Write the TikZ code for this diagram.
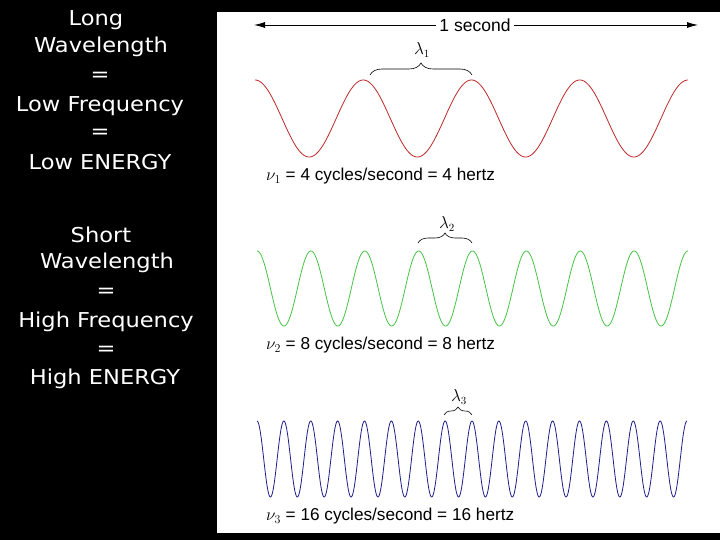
\documentclass[tikz,border=0pt]{standalone}
\usepackage{fontspec}
\setmainfont{Liberation Sans}
\newfontfamily\leftfont[FakeStretch=1.1]{DejaVu Sans}
\usetikzlibrary{arrows.meta,decorations.pathreplacing}
\definecolor{wred}{RGB}{190,40,40}
\definecolor{wgreen}{RGB}{70,195,70}
\definecolor{wblue}{RGB}{30,30,140}
\tikzset{
  lefttxt/.style={text=white, font=\leftfont\fontsize{20.5}{21}\selectfont, inner sep=0pt, anchor=center},
  lbl/.style={font=\fontsize{17.2}{18}\selectfont, inner sep=0pt, anchor=west},
  wave/.style={line width=0.8pt},
  brc/.style={decorate, line width=0.6pt},
  lam/.style={font=\fontsize{16}{16}\selectfont, inner sep=0pt}
}
\begin{document}
\begin{tikzpicture}[x=1pt,y=-1pt]
\useasboundingbox (0,0) rectangle (720,540);
\fill[black] (0,0) rectangle (720,540);
\fill[white] (217,12) rectangle (720,533);
% left texts
\node[lefttxt] (a1) at (96,20) {Long};
\node[lefttxt] (a2) at (101,47) {Wavelength};
\node[lefttxt] (a3) at (100,77) {=};
\node[lefttxt] (a4) at (100,106) {Low Frequency};
\node[lefttxt] (a5) at (100,134) {=};
\node[lefttxt] (a6) at (100,162) {Low ENERGY};
\node[lefttxt] (b1) at (101,235) {Short};
\node[lefttxt] (b2) at (107,263) {Wavelength};
\node[lefttxt] (b3) at (106,293) {=};
\node[lefttxt] (b4) at (106,322) {High Frequency};
\node[lefttxt] (b5) at (106,351) {=};
\node[lefttxt] (b6) at (105,379) {High ENERGY};
% 1 second arrow
\coordinate (L) at (254,25);
\coordinate (R) at (698,25);
\node[font=\fontsize{17.5}{18}\selectfont, inner xsep=3pt] (sec) at (475,25) {1 second};
\draw[line width=0.8pt, {Latex[length=11pt,width=6pt]}-] (L) -- (sec.west);
\draw[line width=0.8pt, -{Latex[length=11pt,width=6pt]}] (sec.east) -- (R);
% waves
\draw[wave, wred] plot[domain=255:688, samples=500] (\x, {118.5-38.5*cos(3.32564*(\x-255))});
\draw[wave, wgreen] plot[domain=257:688, samples=600] (\x, {288.5-37.5*cos(6.68213*(\x-257))});
\draw[wave, wblue] plot[domain=257:687, samples=900] (\x, {459-38*cos(13.39535*(\x-257))});
% braces
\coordinate (p1a) at (370,75);
\coordinate (p1b) at (472,75);
\draw[brc, decoration={brace, amplitude=12pt}] (p1a) -- (p1b);
\node[lam] (l1) at (422,50) {$\lambda_1$};
\coordinate (p2a) at (418,243);
\coordinate (p2b) at (472,243);
\draw[brc, decoration={brace, amplitude=10pt}] (p2a) -- (p2b);
\node[lam] (l2) at (447,224) {$\lambda_2$};
\coordinate (p3a) at (444,415);
\coordinate (p3b) at (472,415);
\draw[brc, decoration={brace, amplitude=8pt}] (p3a) -- (p3b);
\node[lam] (l3) at (459,397) {$\lambda_3$};
% labels
\node[lbl] (n1) at (266,176) {$\nu_1$ = 4 cycles/second = 4 hertz};
\node[lbl] (n2) at (266,345) {$\nu_2$ = 8 cycles/second = 8 hertz};
\node[lbl] (n3) at (266,516) {$\nu_3$ = 16 cycles/second = 16 hertz};
\end{tikzpicture}
\end{document}
